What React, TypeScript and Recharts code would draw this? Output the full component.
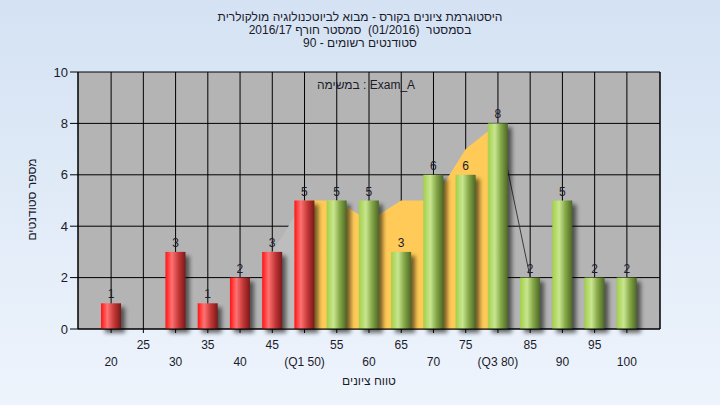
import React from "react";
import {
  ComposedChart,
  Bar,
  Area,
  XAxis,
  YAxis,
  CartesianGrid,
  LabelList,
  Label,
} from "recharts";

// grade buckets and number of students per bucket
const grades = ["20", "25", "30", "35", "40", "45", "50", "55", "60", "65", "70", "75", "80", "85", "90", "95", "100"];
const tickLabels = ["20", "25", "30", "35", "40", "45", "(Q1 50)", "55", "60", "65", "70", "75", "(Q3 80)", "85", "90", "95", "100"];
const counts = [1, 0, 3, 1, 2, 3, 5, 5, 5, 3, 6, 6, 8, 2, 5, 2, 2];
// shaded interquartile band (yellow) and the visible tail edges
const iqrBand = [null, null, null, null, null, null, 5, 5, 4.2, 5, 5, 7, 8, null, null, null, null];
const lowerTail = [null, null, null, null, null, 3, 5, null, null, null, null, null, null, null, null, null, null];
const upperTail = [null, null, null, null, null, null, null, null, null, null, null, null, 8, 2, null, null, null];
const yTicks = [0, 2, 4, 6, 8, 10];

const titleLines = [
  "היסטוגרמת ציונים בקורס - מבוא לביוטכנולוגיה מולקולרית",
  "בסמסטר  (01/2016)  סמסטר חורף 2016/17",
  "סטודנטים רשומים - 90",
];

const data = grades.map((g, i) => ({
  grade: g,
  label: tickLabels[i],
  count: counts[i],
  iqr: iqrBand[i],
  lowTail: lowerTail[i],
  highTail: upperTail[i],
}));

const FONT = '"Liberation Sans", Arial, sans-serif';
const TEXT = "#1b1b2b";

function CylinderBar(props: any) {
  const { x, y, width, height, payload } = props;
  if (!height || height <= 0) return <g />;
  const grad = Number(payload.grade) > 50 ? "url(#greenBar)" : "url(#redBar)";
  return (
    <g>
      <rect
        x={x + 4}
        y={y + 4}
        width={width}
        height={height}
        fill="#000"
        opacity={0.55}
        filter="url(#barShadow)"
      />
      <rect x={x} y={y} width={width} height={height} fill={grad} />
    </g>
  );
}

function GradeTick(props: any) {
  const { x, y, payload } = props;
  const idx = payload.index;
  const lower = idx % 2 === 0;
  return (
    <text
      x={x}
      y={y + (lower ? 31 : 14)}
      textAnchor="middle"
      fontSize={12}
      fontFamily={FONT}
      fill={TEXT}
    >
      {tickLabels[idx]}
    </text>
  );
}

function YTitle(props: any) {
  const { viewBox } = props;
  const cx = viewBox.x + 33;
  const cy = viewBox.y + viewBox.height / 2 - 1;
  return (
    <text
      x={cx}
      y={cy}
      transform={`rotate(-90 ${cx} ${cy})`}
      textAnchor="middle"
      dominantBaseline="middle"
      fontSize={12}
      fontFamily={FONT}
      fill={TEXT}
    >
      מספר סטודנטים
    </text>
  );
}

export default function App() {
  return (
    <div
      style={{
        position: "absolute",
        left: 0,
        top: 0,
        width: 720,
        height: 405,
        background: "linear-gradient(180deg, #d4e2f3 0%, #eef4fc 100%)",
        fontFamily: FONT,
      }}
    >
      <div
        dir="rtl"
        style={{
          position: "absolute",
          left: 0,
          top: 11,
          width: 720,
          textAlign: "center",
          fontSize: 12,
          lineHeight: "13px",
          color: TEXT,
          whiteSpace: "pre",
        }}
      >
        {titleLines.map((t) => (
          <div key={t}>{t}</div>
        ))}
      </div>
      <div style={{ position: "absolute", left: 0, top: 0 }}>
        <ComposedChart
          width={720}
          height={405}
          data={data}
          margin={{ top: 72, right: 0, bottom: 0, left: 0 }}
        >
          <defs>
            <linearGradient id="redBar" x1="0" y1="0" x2="1" y2="0">
              <stop offset="0%" stopColor="#ff1414" />
              <stop offset="32%" stopColor="#ff7272" />
              <stop offset="65%" stopColor="#c43838" />
              <stop offset="100%" stopColor="#7a1818" />
            </linearGradient>
            <linearGradient id="greenBar" x1="0" y1="0" x2="1" y2="0">
              <stop offset="0%" stopColor="#a2d048" />
              <stop offset="35%" stopColor="#c8e690" />
              <stop offset="65%" stopColor="#86a848" />
              <stop offset="100%" stopColor="#4c6826" />
            </linearGradient>
            <filter id="barShadow" x="-50%" y="-10%" width="200%" height="130%">
              <feGaussianBlur stdDeviation="2" />
            </filter>
          </defs>
          <CartesianGrid
            yAxisId="left"
            stroke="#000"
            strokeWidth={1}
            fill="#b4b4b4"
            fillOpacity={1}
          />
          <XAxis
            dataKey="grade"
            height={76}
            padding={{ left: 17, right: 17 }}
            tickSize={4}
            tickLine={{ stroke: "#000" }}
            axisLine={{ stroke: "#000" }}
            interval={0}
            tick={<GradeTick />}
          >
            <Label
              value="טווח ציונים"
              position="insideBottom"
              offset={20}
              fontSize={12}
              fontFamily={FONT}
              fill={TEXT}
            />
          </XAxis>
          <YAxis
            yAxisId="left"
            width={78}
            domain={[0, 10]}
            ticks={yTicks}
            tickSize={8}
            tickMargin={2}
            tickLine={{ stroke: "#000" }}
            axisLine={{ stroke: "#000" }}
            tick={{ fontSize: 13, fill: TEXT, fontFamily: FONT }}
            label={<YTitle />}
          />
          <YAxis
            yAxisId="right"
            orientation="right"
            width={60}
            domain={[0, 10]}
            ticks={yTicks}
            tickSize={8}
            tickMargin={2}
            tickLine={{ stroke: "#000" }}
            axisLine={{ stroke: "#000" }}
            tick={{ fontSize: 13, fill: TEXT, fontFamily: FONT }}
          />
          <Area
            yAxisId="left"
            dataKey="lowTail"
            type="linear"
            fill="#bdbdbd"
            fillOpacity={1}
            stroke="none"
            isAnimationActive={false}
          />
          <Area
            yAxisId="left"
            dataKey="iqr"
            type="linear"
            fill="#ffca57"
            fillOpacity={1}
            stroke="none"
            isAnimationActive={false}
          />
          <Area
            yAxisId="left"
            dataKey="highTail"
            type="linear"
            fill="none"
            fillOpacity={0}
            stroke="#3a3a3a"
            strokeWidth={1}
            isAnimationActive={false}
          />
          <Bar
            yAxisId="left"
            dataKey="count"
            barSize={20}
            shape={(p: any) => <CylinderBar {...p} />}
            isAnimationActive={false}
          >
            <LabelList
              dataKey="count"
              position="top"
              offset={5}
              fontSize={12}
              fontFamily={FONT}
              fill={TEXT}
              formatter={(v: any) => (v === 0 ? "" : v)}
            />
          </Bar>
        </ComposedChart>
      </div>
      <div
        style={{
          position: "absolute",
          left: 0,
          top: 78,
          width: 732,
          textAlign: "center",
          fontSize: 12,
          color: TEXT,
          whiteSpace: "pre",
        }}
      >
        במשימה : Exam_A
      </div>
    </div>
  );
}
